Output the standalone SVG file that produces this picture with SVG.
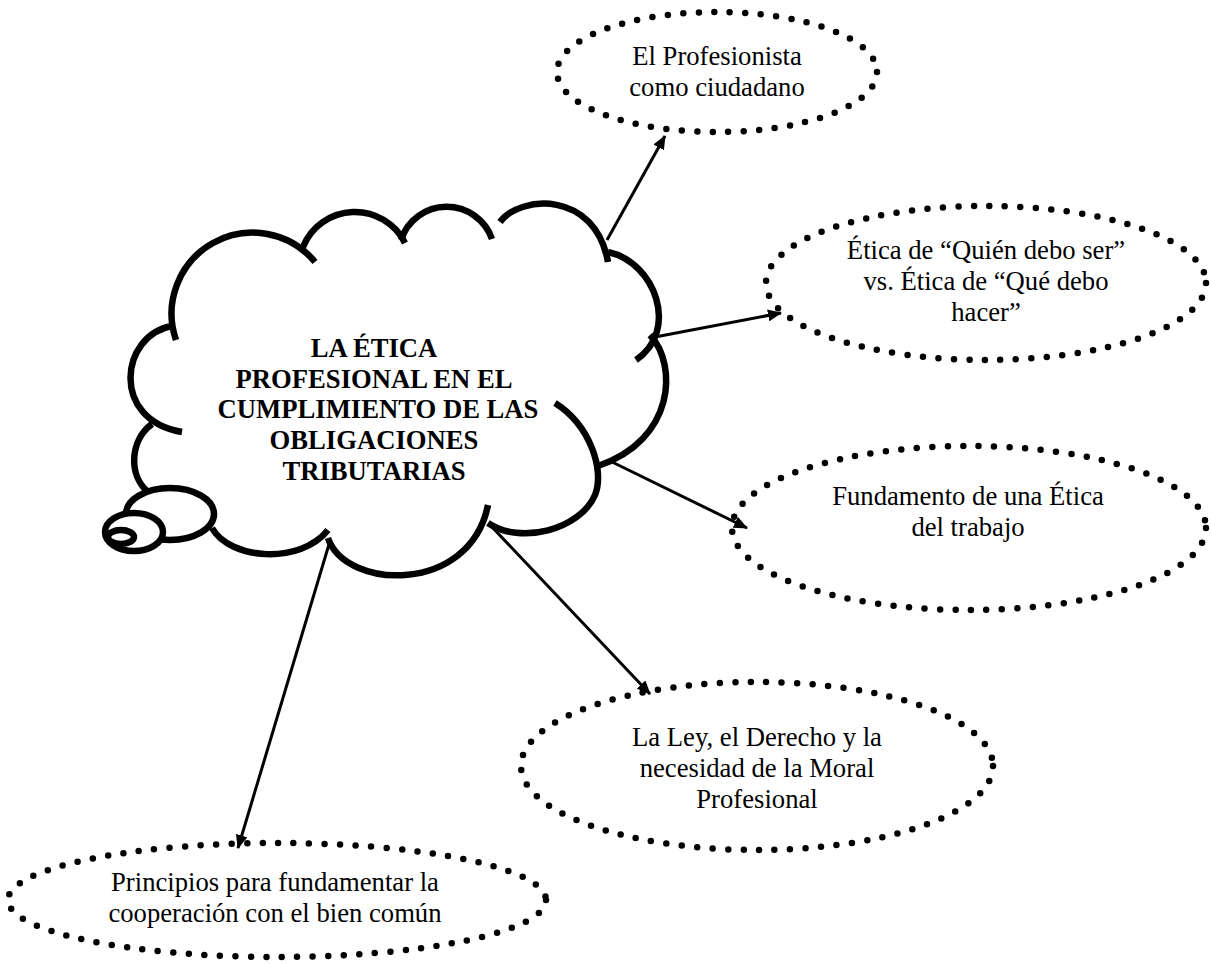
<svg xmlns="http://www.w3.org/2000/svg" width="1211" height="964" viewBox="0 0 1211 964">
<style>
.bg{fill:#fff}
.lobe{fill:none;stroke:#000;stroke-width:6.5;stroke-linecap:butt}
.bub{fill:#fff;stroke:#000;stroke-width:6.5}
.dot{fill:none;stroke:#000;stroke-width:6.5;stroke-linecap:round;stroke-dasharray:0 15.5}
.con{fill:none;stroke:#000;stroke-width:3}
.t{font-family:"Liberation Serif","Times New Roman",serif;font-size:26.67px;fill:#000;text-anchor:middle}
.b{font-weight:bold}
</style>
<defs>
<marker id="ah" viewBox="0 0 14 12" refX="13" refY="6" markerWidth="14" markerHeight="12" orient="auto" markerUnits="userSpaceOnUse">
<path d="M0,0 L14,6 L0,12 Z" fill="#000"/>
</marker>
</defs>
<rect class="bg" x="0" y="0" width="1211" height="964"/>

<g id="central">
<path class="lobe" d="M176,340 A81,81 0 0 1 315,262"/>
<path class="lobe" d="M303,247 A56,56 0 0 1 405,243"/>
<path class="lobe" d="M401,240 A48,48 0 0 1 492,239"/>
<path class="lobe" d="M500,222 C520,195 595,190 608,262"/>
<path class="lobe" d="M608,252 C655,262 680,330 636,360"/>
<path class="lobe" d="M650,335 C678,365 675,440 598,466"/>
<path class="lobe" d="M555,403 C590,425 605,470 595,495 C580,530 520,545 488,523"/>
<path class="lobe" d="M328,538 C345,590 470,595 488,505"/>
<path class="lobe" d="M212,528 C230,560 300,565 328,530"/>
<path class="lobe" d="M152,424 C130,440 128,475 148,492"/>
<path class="lobe" d="M172,326 C120,335 110,420 182,432"/>
<ellipse class="bub" cx="170" cy="514" rx="44" ry="26"/>
<ellipse class="bub" cx="134" cy="532" rx="29" ry="19"/>
<ellipse class="bub" cx="121" cy="537" rx="13" ry="7"/>
<text class="t b" x="374" y="357">LA ÉTICA</text>
<text class="t b" x="374" y="388">PROFESIONAL EN EL</text>
<text class="t b" x="378" y="418">CUMPLIMIENTO DE LAS</text>
<text class="t b" x="374" y="449">OBLIGACIONES</text>
<text class="t b" x="374" y="480">TRIBUTARIAS</text>
</g>

<g id="n1">
<ellipse class="dot" cx="717" cy="72" rx="160" ry="60"/>
<text class="t" x="717" y="65">El Profesionista</text>
<text class="t" x="717" y="96">como ciudadano</text>
</g>

<g id="n2">
<ellipse class="dot" cx="986" cy="283" rx="220" ry="77"/>
<text class="t" x="986" y="259">Ética de “Quién debo ser”</text>
<text class="t" x="986" y="290">vs. Ética de “Qué debo</text>
<text class="t" x="986" y="321">hacer”</text>
</g>

<g id="n3">
<ellipse class="dot" cx="969" cy="528" rx="237" ry="82"/>
<text class="t" x="968" y="505">Fundamento de una Ética</text>
<text class="t" x="968" y="536">del trabajo</text>
</g>

<g id="n4">
<ellipse class="dot" cx="757" cy="766" rx="236" ry="84"/>
<text class="t" x="757" y="746">La Ley, el Derecho y la</text>
<text class="t" x="757" y="777">necesidad de la Moral</text>
<text class="t" x="757" y="808">Profesional</text>
</g>

<g id="n5">
<ellipse class="dot" cx="277" cy="900" rx="269" ry="57"/>
<text class="t" x="275" y="891">Principios para fundamentar la</text>
<text class="t" x="275" y="922">cooperación con el bien común</text>
</g>

<g id="connectors">
<line class="con" x1="607" y1="240" x2="665" y2="136" marker-end="url(#ah)"/>
<line class="con" x1="655" y1="337" x2="781" y2="313" marker-end="url(#ah)"/>
<line class="con" x1="608" y1="460" x2="747" y2="528" marker-end="url(#ah)"/>
<line class="con" x1="492" y1="527" x2="650" y2="694" marker-end="url(#ah)"/>
<line class="con" x1="330" y1="541" x2="238" y2="848" marker-end="url(#ah)"/>
</g>
</svg>
